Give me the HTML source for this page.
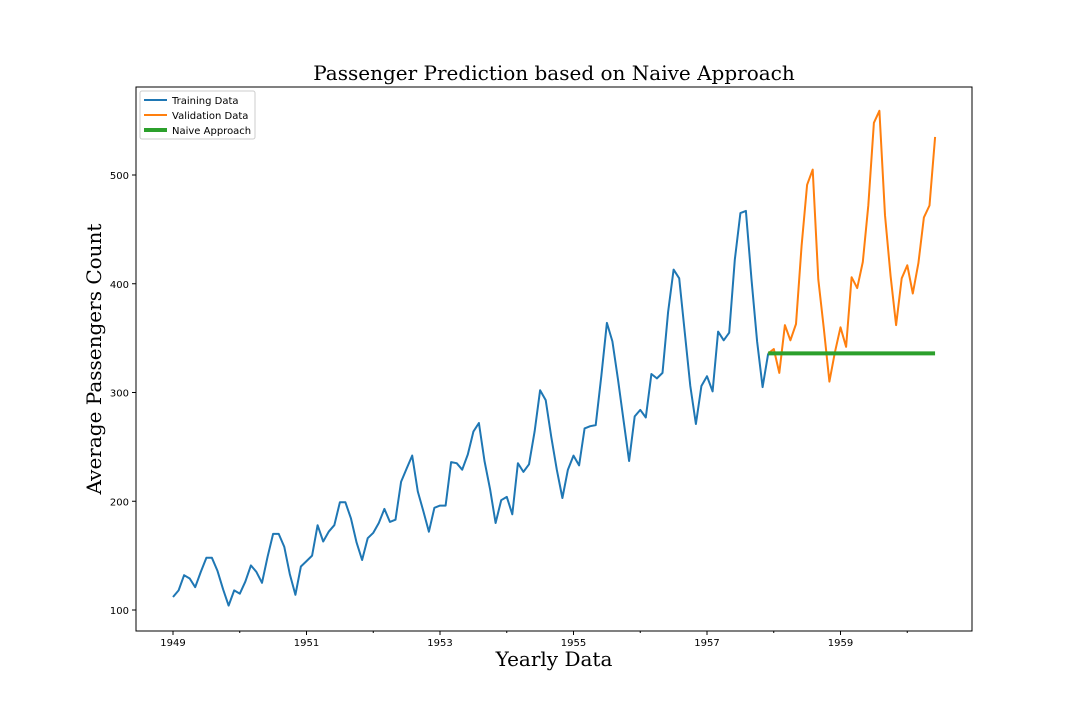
<!DOCTYPE html>
<html><head><meta charset="utf-8"><style>
body{margin:0;background:#fff;width:1080px;height:720px;overflow:hidden}
text{font-family:"DejaVu Sans","Liberation Sans",sans-serif}
</style></head><body>
<svg id="chart" width="1080" height="720" xmlns="http://www.w3.org/2000/svg">
<text x="554" y="80" text-anchor="middle" font-size="20" style="font-family:'DejaVu Serif','Liberation Serif',serif">Passenger Prediction based on Naive Approach</text>
<text x="554" y="666" text-anchor="middle" font-size="20" style="font-family:'DejaVu Serif','Liberation Serif',serif">Yearly Data</text>
<text transform="translate(101,359) rotate(-90)" text-anchor="middle" font-size="20" style="font-family:'DejaVu Serif','Liberation Serif',serif">Average Passengers Count</text>
<g id="plot"></g>
<rect x="136" y="87" width="836" height="544" fill="none" stroke="#000" stroke-width="1"/>
<g>
<rect x="140" y="91" width="115" height="48" fill="#fff" stroke="#ccc" rx="2"/>
<g><line x1="144" y1="100" x2="167" y2="100" stroke="#1f77b4" stroke-width="2"/><text x="172" y="104" font-size="10">Training Data</text></g>
<g><line x1="144" y1="115" x2="167" y2="115" stroke="#ff7f0e" stroke-width="2"/><text x="172" y="119" font-size="10">Validation Data</text></g>
<g><line x1="144" y1="130" x2="167" y2="130" stroke="#2ca02c" stroke-width="4"/><text x="172" y="134" font-size="10">Naive Approach</text></g>
</g>
</svg>
<script>
const trainValues=[112,118,132,129,121,135,148,148,136,119,104,118,115,126,141,135,125,149,170,170,158,133,114,140,145,150,178,163,172,178,199,199,184,162,146,166,171,180,193,181,183,218,230,242,209,191,172,194,196,196,236,235,229,243,264,272,237,211,180,201,204,188,235,227,234,264,302,293,259,229,203,229,242,233,267,269,270,315,364,347,312,274,237,278,284,277,317,313,318,374,413,405,355,306,271,306,315,301,356,348,355,422,465,467,404,347,305,336];
const validValues=[336,340,318,362,348,363,435,491,505,404,359,310,337,360,342,406,396,420,472,548,559,463,407,362,405,417,391,419,461,472,535];
const naiveValue=336;
const trainStart=1949; const validStart=1957+11/12;
const yTicks=[100,200,300,400,500];
const xLabelYears=[1949,1951,1953,1955,1957,1959];
const xMinorYears=[1950,1952,1954,1956,1958,1960];
const X=t=>173+(t-1949)*66.75;
const Y=v=>610-(v-100)*1.0875;
const ns="http://www.w3.org/2000/svg";
const g=document.getElementById('plot');
function el(tag,attrs){const e=document.createElementNS(ns,tag);for(const k in attrs)e.setAttribute(k,attrs[k]);g.appendChild(e);return e;}
yTicks.forEach(v=>{
 const t=el('line',{x1:132,x2:136,y1:Y(v),y2:Y(v),stroke:'#000'});
 
 
 const l=el('text',{x:129,y:Y(v)+4,'text-anchor':'end','font-size':10});l.textContent=v;
 
 
});
xLabelYears.forEach(yr=>{
 const t=el('line',{x1:X(yr),x2:X(yr),y1:631,y2:635,stroke:'#000'});
 
 
 const l=el('text',{x:X(yr),y:646,'text-anchor':'middle','font-size':10});l.textContent=yr;
 
 
});
xMinorYears.forEach(yr=>{
 const t=el('line',{x1:X(yr),x2:X(yr),y1:631,y2:633,stroke:'#000'});
 
 
});
function path(vals,start,color,w,name){
 const d=vals.map((v,i)=>(i?'L':'M')+X(start+i/12).toFixed(1)+','+Y(v).toFixed(1)).join('');
 const p=el('path',{d:d,fill:'none',stroke:color,'stroke-width':w,'stroke-linejoin':'round'});
 
 
}
path(trainValues,trainStart,'#1f77b4',2,'training-line');
path(validValues,validStart,'#ff7f0e',2,'validation-line');
const nl=el('line',{x1:X(validStart),x2:X(validStart+(validValues.length-1)/12),y1:Y(naiveValue),y2:Y(naiveValue),stroke:'#2ca02c','stroke-width':4});


</script>
</body></html>
